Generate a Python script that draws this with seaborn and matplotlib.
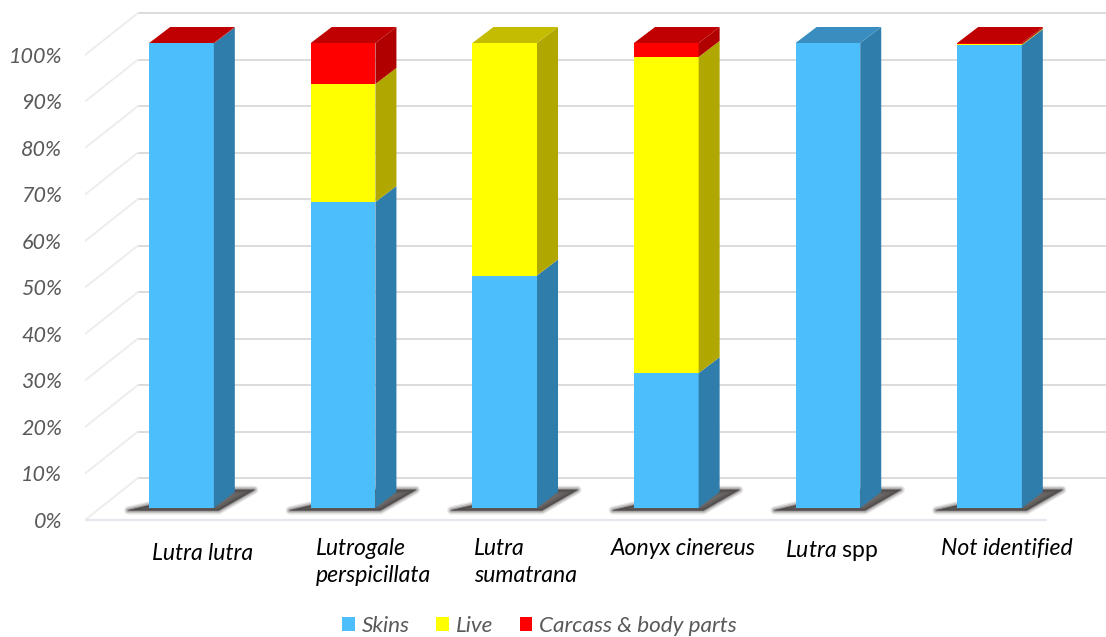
import matplotlib
matplotlib.use("Agg")
import matplotlib.pyplot as plt
from matplotlib.transforms import ScaledTranslation
import seaborn as sns
import numpy as np

# values (percent of records)
species = ["Lutra lutra", "Lutrogale\nperspicillata", "Lutra\nsumatrana",
           "Aonyx cinereus", r"$\mathit{Lutra}$ spp", "Not identified"]
skins = [99.9, 65.8, 50, 29, 100, 99.5]
live = [0, 25.4, 50, 68, 0, 0.2]
carcass = [0.1, 8.8, 0, 3, 0, 0.3]
series_names = ["Skins", "Live", "Carcass & body parts"]
pct_ticks = [0, 10, 20, 30, 40, 50, 60, 70, 80, 90, 100]

front_cols = ["#4DBEFC", "#FFFF00", "#FF0000"]
side_cols = ["#2F7DAB", "#B0A800", "#B00000"]
top_cols = ["#3A8EBF", "#C4BC00", "#C00000"]

sns.set_style("white")
plt.rcParams["font.family"] = ["Lato", "DejaVu Sans"]
plt.rcParams["mathtext.fontset"] = "custom"
plt.rcParams["mathtext.it"] = "Lato:italic"
plt.rcParams["mathtext.rm"] = "Lato"

W, H = 1106, 637
fig = plt.figure(figsize=(W / 100, H / 100), dpi=100)
ax = fig.add_axes([85 / W, (H - 530) / H, 1 - 85 / W, 530 / H])

# pseudo 3d depth of a bar and of the whole chart box, in data units
bar_w = 0.4
bar_dx, bar_dy = 0.13, 3.44
wall_dx, wall_dy = 0.328, 9.03
floor = -2.58

bottom = np.zeros(len(species))
for vals, name, col in zip([skins, live, carcass], series_names, front_cols):
    sns.barplot(x=species, y=vals, bottom=bottom, color=col, saturation=1,
                width=bar_w, label=name, ax=ax, zorder=3, linewidth=0,
                legend=True, errorbar=None)
    bottom = bottom + np.array(vals)

ax.set_xlim((85 - 181.5) / 161.6, (W - 181.5) / 161.6)
ax.set_ylim((508 - 530) / 4.65, 508 / 4.65)

# side faces and lid
for i in range(len(species)):
    b = 0
    r = i + bar_w / 2
    for k, vals in enumerate([skins, live, carcass]):
        v = vals[i]
        if v == 0:
            continue
        ax.fill([r, r + bar_dx, r + bar_dx, r], [b, b + bar_dy, b + v + bar_dy, b + v],
                color=side_cols[k], lw=0, zorder=4)
        b += v
        last = k
    ax.fill([r - bar_w, r, r + bar_dx, r - bar_w + bar_dx],
            [b, b, b + bar_dy, b + bar_dy], color=top_cols[last], lw=0, zorder=4)
    # soft shadow on the floor, a few stacked layers with round corners
    for lw, a in [(6, 0.12), (4, 0.2), (2, 0.3), (0.5, 0.5)]:
        ax.fill([r - bar_w - 0.13, r + 0.03, r + 0.25, r + 0.02],
                [-0.5, -0.5, 3.9, 3.9], color="#3E3838", alpha=a, lw=lw,
                joinstyle="round", zorder=2)

# back wall grid and the left wall lines
x0, x1 = ax.get_xlim()
for t in pct_ticks:
    ax.plot([x0 + wall_dx, x1], [t + floor + wall_dy] * 2, color="#DCDCDC", lw=1.4, zorder=1)
    ax.plot([x0, x0 + wall_dx], [t + floor, t + floor + wall_dy],
            color="#EDEDED", lw=1.4, zorder=1)
ax.plot([x0, 5.35], [floor, floor], color="#E6E6EE", lw=1.6, zorder=1)

ax.set_yticks([t + floor for t in pct_ticks])
ax.set_yticklabels([f"{t}%" for t in pct_ticks], fontsize=15.5, style="italic", color="#595959")
ax.tick_params(axis="y", length=0, pad=16.5)
ax.tick_params(axis="x", length=0, pad=6)
ax.set_xticks(range(len(species)))
ax.set_xticklabels(species, fontsize=16.6, style="italic", color="black",
                   ha="left", linespacing=1.35, va="top")
sns.despine(ax=ax, left=True, bottom=True)

# tick labels are left aligned with their own shift, in pixels
label_dx = [-29.5, -27, -30.5, -56, -42.5, -48]
label_dy = [-5, 0, 0, 0, 0, 0]
for lab, dx, dy in zip(ax.get_xticklabels(), label_dx, label_dy):
    lab.set_transform(lab.get_transform() + ScaledTranslation(dx / 100, dy / 100, fig.dpi_scale_trans))
ax.get_xticklabels()[4].set_style("normal")

ax.legend(loc="center", bbox_to_anchor=(539.5 / W, (H - 626) / H), bbox_transform=fig.transFigure,
          ncols=3, frameon=False, handlelength=0.55, handleheight=0.55, handletextpad=0.3,
          columnspacing=1.2, prop={"size": 16.2, "style": "italic"}, labelcolor="#595959")

fig.savefig("out.png", dpi=100)
